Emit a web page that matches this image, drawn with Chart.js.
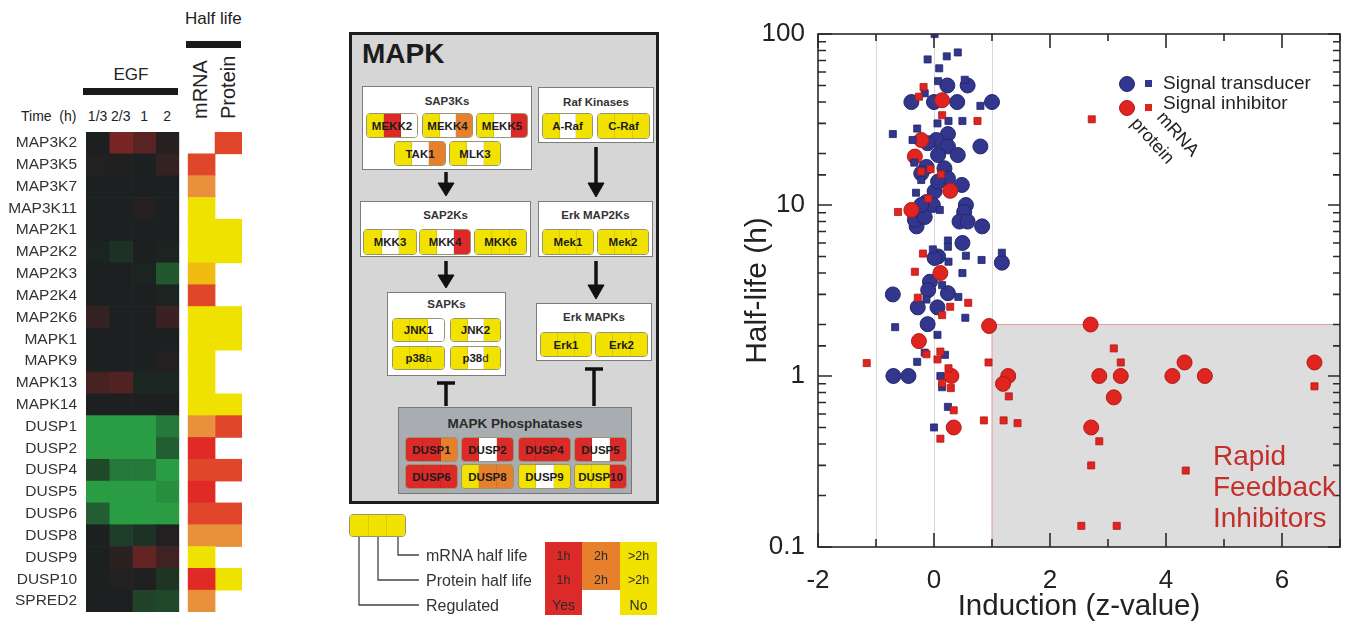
<!DOCTYPE html>
<html>
<head>
<meta charset="utf-8">
<script src="https://cdn.jsdelivr.net/npm/chart.js@4.4.1/dist/chart.umd.min.js"></script>
<style>
html, body { margin: 0; padding: 0; background: #fff; }
body { width: 1358px; height: 634px; position: relative; overflow: hidden;
       font-family: "Liberation Sans", Arial, sans-serif; color: #222; }
#heatWrap { position: absolute; left: 0; top: 0; width: 250px; height: 634px; }
#scatWrap { position: absolute; left: 700px; top: 0; width: 658px; height: 634px; }
.lbl { position: absolute; white-space: nowrap; line-height: 1; }
.blk { position: absolute; background: #1a1a1a; }
.rot { position: absolute; white-space: nowrap; line-height: 20px; font-size: 20px;
       transform-origin: 0 0; transform: rotate(-90deg); }
#mapk { position: absolute; left: 349px; top: 32px; width: 310px; height: 472px;
        box-sizing: border-box; border: 3px solid #1c1c1c; background: #d6d6d6; }
.box { position: absolute; background: #fff; border: 1.5px solid #7c7c7c; box-sizing: border-box; }
.box.ph { background: #a9acb0; border-color: #777; }
.box .t { position: absolute; left: 0; right: 0; text-align: center; font-weight: bold;
          font-size: 11.5px; line-height: 1; color: #333; }
.box.ph .t { font-size: 13.5px; color: #2a2a2a; }
.chip { position: absolute; display: flex; border: 1px solid #9a9470; border-radius: 4px;
        overflow: hidden; box-sizing: border-box; }
.chip .s { flex: 1; border-right: 1px solid rgba(0,0,0,0.10); }
.chip .s:last-of-type { border-right: none; }
.chip .n { position: absolute; left: 0; right: 0; top: 0; bottom: 0; display: flex;
           align-items: center; justify-content: center; font-weight: bold; font-size: 11.5px; color: #1c1c1c; }
.chip .n .g { font-weight: normal; }
.tb { position: absolute; }
.tb .c { position: absolute; left: 0; right: 0; text-align: center; font-size: 12.5px; line-height: 1; color: #2a2a2a; }
</style>
</head>
<body>

<!-- heatmap headers -->
<div class="lbl" style="left:185px;top:10px;font-size:17px;">Half life</div>
<div class="blk" style="left:186px;top:41px;width:55px;height:7px;"></div>
<div class="rot" style="left:190px;top:119px;">mRNA</div>
<div class="rot" style="left:218px;top:119px;">Protein</div>
<div class="lbl" style="left:83px;width:96px;top:66px;font-size:17px;text-align:center;">EGF</div>
<div class="blk" style="left:83px;top:88px;width:95px;height:7px;"></div>
<div class="lbl" style="left:21px;top:109px;font-size:14px;">Time&nbsp;&nbsp;(h)</div>
<div id="timeLabels"></div>
<div id="heatWrap"><canvas id="heat"></canvas></div>

<!-- MAPK pathway diagram -->
<div id="mapk"></div>
<div id="diagram"></div>
<svg style="position:absolute;left:0;top:0;" width="1358" height="634">
  <g stroke="#111" stroke-width="3.5" fill="#111">
    <line x1="446" y1="172" x2="446" y2="185"/><polygon points="438,183 454,183 446,196" stroke-width="1"/>
    <line x1="596" y1="147" x2="596" y2="185"/><polygon points="588,183 604,183 596,197" stroke-width="1"/>
    <line x1="446" y1="261" x2="446" y2="277"/><polygon points="438,275 454,275 446,288" stroke-width="1"/>
    <line x1="596" y1="261" x2="596" y2="287"/><polygon points="588,285 604,285 596,299" stroke-width="1"/>
    <line x1="446" y1="383" x2="446" y2="406"/><line x1="437" y1="383" x2="455" y2="383"/>
    <line x1="594" y1="369" x2="594" y2="406"/><line x1="585" y1="369" x2="603" y2="369"/>
  </g>
  <g stroke="#444" stroke-width="1.3" fill="none">
    <polyline points="398,537 398,555 419,555"/>
    <polyline points="378,537 378,580 419,580"/>
    <polyline points="359,537 359,605 419,605"/>
  </g>
</svg>
<div class="lbl" style="left:426px;top:548px;font-size:16px;color:#333;">mRNA half life</div>
<div class="lbl" style="left:426px;top:573px;font-size:16px;color:#333;">Protein half life</div>
<div class="lbl" style="left:426px;top:598px;font-size:16px;color:#333;">Regulated</div>
<div class="tb" style="left:545px;top:542px;width:37px;height:73px;background:#dc2a28;">
  <div class="c" style="top:8px;">1h</div><div class="c" style="top:32px;">1h</div><div class="c" style="top:56px;font-size:14px;">Yes</div></div>
<div class="tb" style="left:582px;top:542px;width:38px;height:48px;background:#e6802c;">
  <div class="c" style="top:8px;">2h</div><div class="c" style="top:32px;">2h</div></div>
<div class="tb" style="left:620px;top:542px;width:37px;height:73px;background:#f2e200;">
  <div class="c" style="top:8px;">&gt;2h</div><div class="c" style="top:32px;">&gt;2h</div><div class="c" style="top:56px;font-size:14px;">No</div></div>

<div id="scatWrap"><canvas id="scatter"></canvas></div>

<script>
// ---------- heatmap data ----------
const genes = ['MAP3K2', 'MAP3K5', 'MAP3K7', 'MAP3K11', 'MAP2K1', 'MAP2K2', 'MAP2K3', 'MAP2K4',
  'MAP2K6', 'MAPK1', 'MAPK9', 'MAPK13', 'MAPK14', 'DUSP1', 'DUSP2', 'DUSP4', 'DUSP5', 'DUSP6',
  'DUSP8', 'DUSP9', 'DUSP10', 'SPRED2'];
const timePoints = ['1/3', '2/3', '1', '2'];
// EGF response per time point (+ = green, - = red)
const egf13 = [0, -0.05, 0, 0, 0, 0.03, 0, 0, -0.2, 0, 0, -0.35, 0, 0.9, 0.9, 0.3, 0.9, 0.45, 0, 0, 0, 0];
const egf23 = [-0.75, -0.03, 0, 0, 0, 0.12, 0, 0, 0, 0, 0, -0.45, 0, 0.9, 0.9, 0.65, 0.9, 0.9, 0.22, -0.12, -0.05, 0];
const egf1 = [-0.5, 0, 0, -0.08, 0, 0, 0.03, 0, 0, 0, 0, 0.05, 0, 0.9, 0.9, 0.65, 0.9, 0.9, 0.12, -0.6, -0.04, 0.25];
const egf2 = [-0.08, -0.2, 0, 0, 0, 0.03, 0.4, 0.03, -0.25, 0, -0.05, 0.05, 0, 0.65, 0.45, 0.9, 0.8, 0.9, -0.05, -0.3, 0.15, 0.3];
// half lives in hours (null = not measured)
const mrnaHalfLife = [null, 1.2, 2, 10, 10, 10, 3, 1.2, 10, 10, 10, 10, 10, 2, 0.8, 1.2, 0.9, 1.2, 2, 10, 0.9, 2];
const proteinHalfLife = [1.2, null, null, null, 10, 10, null, null, 10, 10, null, null, 10, 1.2, null, 1.2, null, 1.2, 2, null, 10, null];

// ---------- scatter data: [induction z-value, half-life h] ----------
const transducerMrna = [[0.23,50],[0.58,50],[-0.39,40],[0,40],[0.4,40],[1.0,40],[0.24,26],[0.04,24],
  [-0.11,23],[0.24,22],[0.8,22],[0.41,19.6],[0.07,19.6],[-0.13,16.7],[-0.22,15.3],[0.18,16.4],
  [0.24,14.3],[0.48,13.1],[0.01,12],[-0.13,10.4],[0.55,10],[0.52,9.1],[0.44,8],[0.58,8],[0.83,7.5],
  [-0.3,7.5],[0.49,6],[0.07,5],[0.01,4.9],[1.17,4.6],[-0.07,3.56],[-0.1,3.18],[-0.71,3],[0.24,3.05],
  [-0.28,2.52],[0.06,2.52],[-0.11,2.01],[-0.7,1],[-0.44,1],[0.07,13.7],[-0.33,8.2],[-0.16,8.5],
  [-0.02,10],[-0.22,10]];
const transducerProtein = [[0.01,100],[-0.11,71],[0.22,74],[0.41,78],[0.09,63],[0.07,53],[0.53,54],
  [0.8,38],[0.06,30],[0.25,31],[0.49,31],[-0.71,26],[-0.29,28],[-0.37,24],[-0.34,17.7],[-0.31,11.8],
  [0.1,9.35],[-0.22,14],[0.24,6.2],[0.24,5.7],[-0.02,5.5],[0.55,5.05],[0.82,4.77],[0.25,4.66],[0.49,4.0],
  [0.14,3.4],[-0.13,2.8],[0.42,2.9],[1.17,5.26],[0.54,2.19],[-0.67,1.93],[0.06,1.74],[-0.16,1.37],
  [0.19,1.33],[-0.29,1.21],[0.11,1.0],[0.14,0.86],[0.24,0.66],[0.0,0.5],[-0.16,45]];
const inhibitorMrna = [[0.14,41],[-0.22,24],[-0.33,19.2],[0.28,12.1],[-0.39,9.35],[0.11,4.0],[-0.26,1.6],
  [0.95,1.96],[0.3,1.0],[0.34,0.5],[2.7,2.0],[1.28,1.0],[1.19,0.9],[2.85,1.0],[3.22,1.0],[3.1,0.75],
  [2.71,0.5],[4.11,1.0],[4.32,1.2],[4.67,1.0],[6.56,1.2]];
const inhibitorProtein = [[-0.18,49],[-0.26,43],[0.14,33.5],[0.75,31],[-0.22,15.7],[-0.06,16.2],[0.12,15.1],
  [-0.1,10.9],[-0.62,9.1],[-0.19,5.2],[-0.33,4.07],[-0.28,2.87],[0.59,2.68],[0.28,2.54],[0.14,2.27],
  [-0.13,1.34],[0.06,1.25],[0.11,1.39],[0.25,1.11],[0.94,1.2],[-1.16,1.19],[0.14,0.91],[0.29,0.85],
  [0.34,0.63],[0.11,0.43],[0.86,0.55],[1.2,0.55],[1.44,0.53],[1.29,0.76],[3.1,1.45],[3.22,1.2],
  [2.85,0.415],[2.71,0.3],[2.54,0.133],[3.15,0.133],[4.34,0.28],[6.56,0.87],[2.72,31.7]];
// rapid feedback zone: induction > 1, half-life < 2 h
const zoneMinZ = 1, zoneMaxHalfLife = 2;

Chart.defaults.font.family = '"Liberation Sans", Arial, sans-serif';
Chart.defaults.color = '#222';
Chart.defaults.animation = false;

// ---------- heatmap ----------
const colEdges = [[0, 1], [1, 2], [2, 3], [3, 4], [4.4, 5.56], [5.56, 6.72]];

function egfColor(v) {
  const base = [28, 32, 32], up = [42, 170, 72], dn = [150, 38, 38];
  const c = v >= 0 ? up : dn, t = Math.min(1, Math.abs(v));
  return 'rgb(' + base.map((b, k) => Math.round(b + (c[k] - b) * t)).join(',') + ')';
}
function hlColor(h) {
  if (h == null) return 'rgba(0,0,0,0)';
  if (h <= 1) return '#e02a26';
  if (h <= 1.5) return '#e0462a';
  if (h <= 2.5) return '#e8903c';
  if (h <= 4) return '#f0bc12';
  return '#f0e200';
}

const heatSets = [egf13, egf23, egf1, egf2].map((vals, i) => ({
  data: vals.map(() => colEdges[i]),
  backgroundColor: vals.map(egfColor)
})).concat([mrnaHalfLife, proteinHalfLife].map((vals, j) => ({
  data: vals.map(h => h == null ? null : colEdges[4 + j]),
  backgroundColor: vals.map(hlColor)
}))).map(d => Object.assign(d, {
  grouped: false, barPercentage: 1, categoryPercentage: 1, borderWidth: 0
}));

new Chart(document.getElementById('heat'), {
  type: 'bar',
  data: { labels: genes, datasets: heatSets },
  options: {
    indexAxis: 'y',
    responsive: true,
    maintainAspectRatio: false,
    devicePixelRatio: 1,
    events: [],
    layout: { padding: { top: 132, bottom: 22, right: 8, left: 0 } },
    plugins: { legend: { display: false }, tooltip: { enabled: false } },
    scales: {
      x: { type: 'linear', display: false, min: 0, max: 6.72 },
      y: {
        grid: { display: false, drawTicks: false }, border: { display: false },
        ticks: { font: { size: 15.5 }, color: '#333', padding: 9, autoSkip: false },
        afterFit: s => { s.width = 86; }
      }
    }
  }
});

// time labels above the EGF columns
const tl = document.getElementById('timeLabels');
timePoints.forEach((t, i) => {
  const d = document.createElement('div');
  d.className = 'lbl';
  const cx = 86 + (colEdges[i][0] + colEdges[i][1]) / 2 * (156 / 6.72);
  d.style.cssText = 'left:' + (cx - 20) + 'px;width:40px;text-align:center;top:109px;font-size:14px;';
  d.textContent = t;
  tl.appendChild(d);
});

// ---------- MAPK diagram ----------
const chipColors = { Y: '#f2e200', R: '#dc2a28', O: '#e6802c', W: '#ffffff' };
const boxes = [
  ['SAP3Ks', 362, 86, 170, 84, 9, ''],
  ['Raf Kinases', 538, 87, 116, 56, 9, ''],
  ['SAP2Ks', 360, 201, 171, 56, 8, ''],
  ['Erk MAP2Ks', 538, 201, 115, 56, 8, ''],
  ['SAPKs', 387, 292, 119, 84, 6, ''],
  ['Erk MAPKs', 536, 303, 116, 58, 8, ''],
  ['MAPK Phosphatases', 398, 407, 234, 87, 9, 'ph']
];
const chips = [
  ['MEKK2', 366, 113, 52, 25, 'YRW'], ['MEKK4', 422, 113, 51, 25, 'YWO'], ['MEKK5', 476, 113, 52, 25, 'YWR'],
  ['TAK1', 394, 141, 52, 25, 'YWO'], ['MLK3', 449, 141, 52, 25, 'YWY'],
  ['A-Raf', 542, 113, 51, 26, 'YWY'], ['C-Raf', 597, 113, 53, 26, 'YYY'],
  ['MKK3', 363, 229, 54, 26, 'YWY'], ['MKK4', 419, 229, 52, 26, 'YWR'], ['MKK6', 474, 229, 53, 26, 'YYY'],
  ['Mek1', 542, 229, 52, 26, 'YYY'], ['Mek2', 597, 229, 52, 26, 'YYY'],
  ['JNK1', 392, 318, 53, 24, 'YYW'], ['JNK2', 450, 318, 51, 24, 'YWY'],
  ['p38<span class="g">a</span>', 392, 346, 53, 24, 'YYY'], ['p38<span class="g">d</span>', 450, 346, 51, 24, 'YWY'],
  ['Erk1', 540, 332, 52, 25, 'YYY'], ['Erk2', 595, 332, 53, 25, 'YYY'],
  ['DUSP1', 405, 437, 53, 25, 'RRO'], ['DUSP2', 461, 437, 53, 25, 'RWR'],
  ['DUSP4', 518, 437, 53, 25, 'RRR'], ['DUSP5', 574, 437, 53, 25, 'RWR'],
  ['DUSP6', 405, 464, 53, 25, 'RRR'], ['DUSP8', 461, 464, 53, 25, 'YOO'],
  ['DUSP9', 518, 464, 53, 25, 'YWY'], ['DUSP10', 574, 464, 53, 25, 'YYR'],
  ['', 349, 514, 57, 23, 'YYY']
];
const dg = document.getElementById('diagram');
const mk = document.createElement('div');
mk.className = 'lbl';
mk.style.cssText = 'left:362px;top:40px;font-size:28px;font-weight:bold;color:#1c1c1c;';
mk.textContent = 'MAPK';
dg.appendChild(mk);
boxes.forEach(([t, x, y, w, h, ty, cls]) => {
  const b = document.createElement('div');
  b.className = 'box ' + cls;
  b.style.cssText = `left:${x}px;top:${y}px;width:${w}px;height:${h}px;`;
  b.innerHTML = `<div class="t" style="top:${ty}px">${t}</div>`;
  dg.appendChild(b);
});
chips.forEach(([t, x, y, w, h, cols]) => {
  const c = document.createElement('div');
  c.className = 'chip';
  c.style.cssText = `left:${x}px;top:${y}px;width:${w}px;height:${h}px;`;
  c.innerHTML = cols.split('').map(k => `<span class="s" style="background:${chipColors[k]}"></span>`).join('') +
    `<div class="n">${t}</div>`;
  dg.appendChild(c);
});

// ---------- scatter ----------
const BLUE = '#32368c', BLUE_EDGE = '#23276c', RED = '#e0241f', RED_EDGE = '#b21b17';
const toPts = arr => arr.map(([x, y]) => ({ x: x, y: y }));
const isDecade = v => Math.abs(Math.log10(v) - Math.round(Math.log10(v))) < 1e-6;

const scatterDecor = {
  id: 'scatterDecor',
  beforeDatasetsDraw(chart) {
    const { ctx, chartArea: a, scales: { x, y } } = chart;
    const x0 = x.getPixelForValue(zoneMinZ), y0 = y.getPixelForValue(zoneMaxHalfLife);
    ctx.save();
    ctx.fillStyle = '#dddddd';
    ctx.fillRect(x0, y0, a.right - x0, a.bottom - y0);
    ctx.strokeStyle = '#e49a9a';
    ctx.lineWidth = 1;
    ctx.beginPath();
    ctx.moveTo(x0, a.bottom); ctx.lineTo(x0, y0); ctx.lineTo(a.right, y0);
    ctx.stroke();
    ctx.restore();
  },
  afterDatasetsDraw(chart) {
    const { ctx, chartArea: a, scales: { x, y } } = chart;
    ctx.save();
    ctx.strokeStyle = '#2a2a2a';
    ctx.lineWidth = 1.6;
    ctx.strokeRect(a.left, a.top, a.right - a.left, a.bottom - a.top);
    ctx.beginPath();
    x.ticks.forEach(t => {
      const px = x.getPixelForValue(t.value);
      const major = t.value % 2 === 0;
      ctx.moveTo(px, a.bottom); ctx.lineTo(px, a.bottom - (major ? 14 : 8));
      ctx.moveTo(px, a.top); ctx.lineTo(px, a.top + (major ? 14 : 7));
    });
    y.ticks.forEach(t => {
      const py = y.getPixelForValue(t.value);
      const major = isDecade(t.value);
      ctx.moveTo(a.left, py); ctx.lineTo(a.left + (major ? 14 : 8), py);
      ctx.moveTo(a.right, py); ctx.lineTo(a.right - (major ? 12 : 7), py);
    });
    ctx.stroke();

    // legend
    const rows = [['Signal transducer', BLUE, BLUE_EDGE, 84, 84], ['Signal inhibitor', RED, RED_EDGE, 108, 104]];
    rows.forEach(([txt, fill, edge, my, ty]) => {
      ctx.fillStyle = fill; ctx.strokeStyle = edge; ctx.lineWidth = 1;
      ctx.beginPath(); ctx.arc(427, my, 7.5, 0, Math.PI * 2); ctx.fill(); ctx.stroke();
      ctx.fillRect(445, my - 4, 7, 7);
      ctx.fillStyle = '#222';
      ctx.font = '19px "Liberation Sans", Arial, sans-serif';
      ctx.textBaseline = 'middle';
      ctx.fillText(txt, 463, ty);
    });
    ctx.font = '18px "Liberation Sans", Arial, sans-serif';
    ctx.textBaseline = 'alphabetic';
    [['mRNA', 456, 118], ['protein', 430, 124]].forEach(([txt, tx, ty]) => {
      ctx.save(); ctx.translate(tx, ty); ctx.rotate(48 * Math.PI / 180);
      ctx.fillText(txt, 0, 0); ctx.restore();
    });

    // zone caption
    ctx.fillStyle = '#c3302c';
    ctx.font = '28px "Liberation Sans", Arial, sans-serif';
    ctx.textBaseline = 'middle';
    ['Rapid', 'Feedback', 'Inhibitors'].forEach((s, i) => ctx.fillText(s, 513, 457 + i * 31));
    ctx.restore();
  }
};

new Chart(document.getElementById('scatter'), {
  type: 'scatter',
  data: {
    datasets: [
      { label: 'Signal inhibitor protein', data: toPts(inhibitorProtein), pointStyle: 'rect', pointRadius: 5,
        backgroundColor: RED, borderColor: RED_EDGE, borderWidth: 0.8 },
      { label: 'Signal transducer protein', data: toPts(transducerProtein), pointStyle: 'rect', pointRadius: 5,
        backgroundColor: BLUE, borderColor: BLUE_EDGE, borderWidth: 0.8 },
      { label: 'Signal inhibitor mRNA', data: toPts(inhibitorMrna), pointStyle: 'circle', pointRadius: 7.5,
        backgroundColor: RED, borderColor: RED_EDGE, borderWidth: 1 },
      { label: 'Signal transducer mRNA', data: toPts(transducerMrna), pointStyle: 'circle', pointRadius: 7.5,
        backgroundColor: BLUE, borderColor: BLUE_EDGE, borderWidth: 1 }
    ]
  },
  options: {
    responsive: true,
    maintainAspectRatio: false,
    devicePixelRatio: 1,
    events: [],
    layout: { padding: { top: 34, right: 9, left: 0, bottom: 0 } },
    plugins: { legend: { display: false }, tooltip: { enabled: false } },
    scales: {
      x: {
        type: 'linear', min: -2, max: 7,
        border: { display: false },
        grid: { drawTicks: false, lineWidth: 1,
                color: c => [-1, 0, 1].includes(c.tick.value) ? '#d9d9d9' : 'rgba(0,0,0,0)' },
        ticks: { stepSize: 1, autoSkip: false, padding: 18, font: { size: 26 }, color: '#222',
                 callback: v => (v % 2 === 0 && v <= 6) ? String(v) : '' },
        title: { display: true, text: 'Induction (z-value)', font: { size: 29.5 }, color: '#222',
                 padding: { bottom: 9 } },
        afterFit: s => { s.height = 87; }
      },
      y: {
        type: 'logarithmic', min: 0.1, max: 100,
        border: { display: false },
        grid: { display: false, drawTicks: false },
        ticks: { autoSkip: false, padding: 13, font: { size: 26 }, color: '#222',
                 callback: v => isDecade(v) ? (v < 1 ? v.toFixed(1) : String(Math.round(v))) : '' },
        title: { display: true, text: 'Half-life (h)', font: { size: 30 }, color: '#222',
                 padding: { top: 40 } },
        afterFit: s => { s.width = 118; }
      }
    }
  },
  plugins: [scatterDecor]
});
</script>
</body>
</html>
